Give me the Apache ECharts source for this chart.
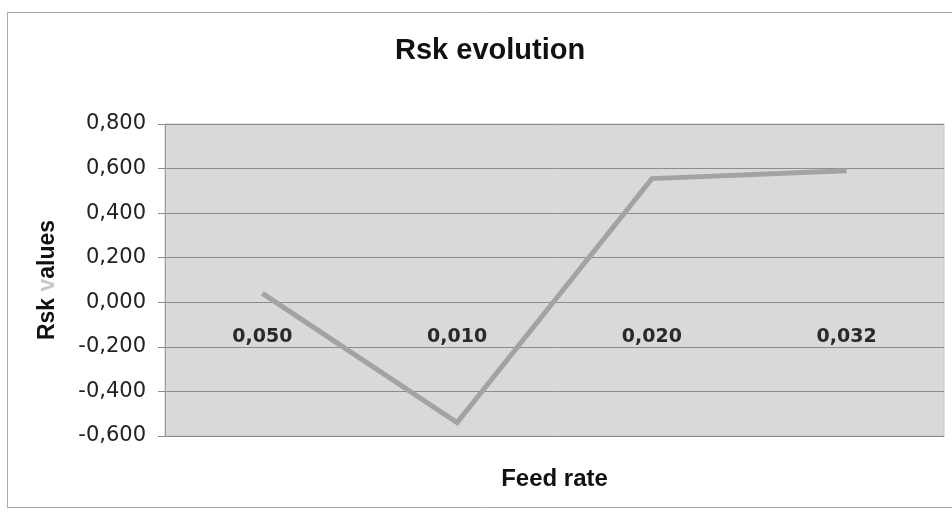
<!DOCTYPE html>
<html>
<head>
<meta charset="utf-8">
<style>html,body{margin:0;padding:0;background:#fff;}#c{width:952px;height:517px;}</style>
<script src="https://cdn.jsdelivr.net/npm/echarts@6/dist/echarts.min.js"></script>
</head>
<body>
<div id="c"></div>
<script>
const categories = ['0,050', '0,010', '0,020', '0,032'];
const rskValues = [0.04, -0.54, 0.555, 0.59];
const yMin = -0.6, yMax = 0.8, yStep = 0.2;

const chart = echarts.init(document.getElementById('c'), null, {renderer: 'canvas'});
chart.setOption({
  animation: false,
  backgroundColor: '#fff',
  title: {
    text: 'Rsk evolution', left: 390, top: 31,
    textStyle: {fontFamily: 'Liberation Sans, Arial', fontSize: 29, fontWeight: 'bold', color: '#111'}
  },
  graphic: [{
    type: 'rect', left: 5, top: 10, shape: {width: 960, height: 495},
    style: {fill: 'none', stroke: '#a8a8a8', lineWidth: 1}, silent: true
  }],
  grid: {
    left: 165, right: 8, top: 124, bottom: 81,
    show: true, backgroundColor: '#d9d9d9', borderColor: '#c4c4c4', borderWidth: 1,
    containLabel: false
  },
  xAxis: {
    type: 'category', data: categories, boundaryGap: true,
    name: 'Feed rate', nameLocation: 'middle', nameGap: 31, nameMoveOverlap: false,
    nameTextStyle: {fontFamily: 'Liberation Sans, Arial', fontSize: 24, fontWeight: 'bold', color: '#111'},
    axisLine: {onZero: false, lineStyle: {color: '#8c8c8c', width: 1}},
    axisTick: {show: false},
    axisLabel: {margin: -108, fontFamily: 'DejaVu Sans', fontSize: 19, fontWeight: 'bold', color: '#2a2a2a'},
    splitLine: {show: false}
  },
  yAxis: {
    type: 'value', min: yMin, max: yMax, interval: yStep,
    name: '{a|Rsk }{b|v}{a|alues}', nameLocation: 'middle', nameGap: 106, nameRotate: 90, nameMoveOverlap: false,
    nameTextStyle: {
      rich: {
        a: {fontFamily: 'Liberation Sans, Arial', fontSize: 23, fontWeight: 'bold', color: '#111'},
        b: {fontFamily: 'Liberation Sans, Arial', fontSize: 23, fontWeight: 'bold', color: '#c8c8c8'}
      }
    },
    axisLine: {show: true, lineStyle: {color: '#9a9a9a'}},
    axisTick: {show: true, length: 7, lineStyle: {color: '#8c8c8c'}},
    axisLabel: {
      margin: 19, fontFamily: 'DejaVu Sans', fontSize: 21, color: '#222',
      formatter: v => v.toFixed(3).replace('.', ',')
    },
    splitLine: {show: true, lineStyle: {color: '#8c8c8c', width: 1}}
  },
  series: [{
    type: 'line', data: rskValues,
    symbol: 'none',
    lineStyle: {color: '#a3a3a3', width: 5, join: 'miter'},
    z: 3
  }]
});
</script>
</body>
</html>
